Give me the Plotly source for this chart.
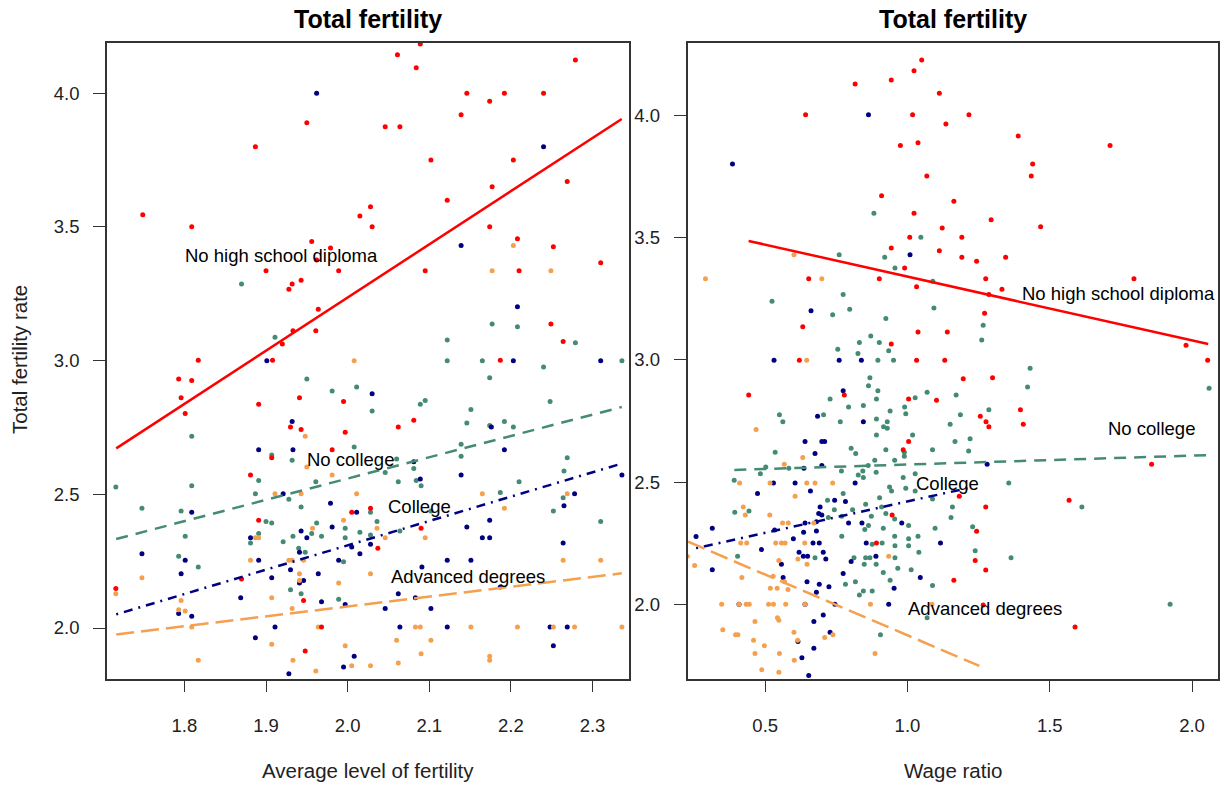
import plotly.graph_objects as go

# ---------------- data (left panel: x = average level of fertility) ----------------
L_RED = [(2.089,4.184),(2.061,4.144),(2.084,4.095),(2.279,4.124),(2.146,4.000),(2.174,3.970),
         (2.192,4.000),(2.240,4.000),(2.139,3.920),(1.950,3.890),(2.046,3.875),(2.064,3.875),
         (1.887,3.800),(2.102,3.750),(2.203,3.750),(2.177,3.650),(2.269,3.670),(2.122,3.600),
         (1.749,3.546),(1.809,3.501),(2.015,3.541),(2.028,3.576),(2.030,3.501),(2.174,3.501),
         (1.956,3.446),(2.208,3.456),(1.979,3.421),(2.252,3.426),(2.310,3.366),(1.962,3.376),
         (1.900,3.336),(1.989,3.336),(2.095,3.336),(2.210,3.336),(1.943,3.301),(1.932,3.287),
         (1.928,3.267),(1.964,3.192),(1.961,3.112),(1.933,3.112),(1.920,3.062),(2.249,3.137),
         (2.264,3.072),(1.817,3.001),(1.908,3.001),(2.187,3.001),(1.793,2.931),(1.809,2.926),
         (1.796,2.861),(1.801,2.802),(1.891,2.837),(1.941,2.861),(1.995,2.847),(1.930,2.752),
         (1.943,2.742),(1.997,2.732),(2.062,2.752),(2.081,2.777),(1.981,2.667),(1.907,2.637),
         (1.881,2.572),(2.028,2.448),(2.005,2.433),(1.891,2.403),(2.090,2.373),(2.037,2.298),
         (1.870,2.183),(1.716,2.148),(1.946,2.103),(1.968,2.004),(1.948,1.914)]
L_GREEN = [(1.870,3.287),(1.911,3.087),(2.177,3.137),(2.208,3.127),(2.279,3.067),(2.122,3.077),
           (2.122,3.000),(2.165,3.000),(2.240,2.976),(2.336,3.000),(1.950,2.931),(1.981,2.886),
           (2.011,2.901),(2.174,2.936),(2.248,2.847),(2.089,2.837),(2.095,2.851),(2.030,2.812),
           (2.151,2.817),(2.146,2.767),(2.174,2.757),(2.192,2.772),(2.203,2.752),(1.809,2.717),
           (2.008,2.677),(2.139,2.687),(1.907,2.647),(1.932,2.627),(2.060,2.632),(2.139,2.642),
           (2.269,2.637),(2.081,2.597),(2.046,2.582),(2.265,2.587),(1.716,2.527),(1.809,2.532),
           (1.891,2.552),(1.961,2.547),(2.062,2.547),(2.084,2.552),(2.090,2.532),(2.210,2.547),
           (1.887,2.502),(1.928,2.482),(1.943,2.453),(2.187,2.507),(2.264,2.487),(1.748,2.448),
           (1.796,2.438),(2.102,2.438),(2.028,2.433),(2.252,2.438),(2.310,2.398),(1.900,2.398),
           (1.907,2.393),(1.962,2.393),(2.036,2.398),(1.997,2.373),(1.891,2.353),(1.801,2.343),
           (1.933,2.343),(1.956,2.353),(1.968,2.343),(2.015,2.358),(2.028,2.348),(2.064,2.363),
           (1.881,2.318),(1.921,2.323),(1.997,2.338),(1.940,2.298),(1.948,2.283),(1.793,2.268),
           (1.817,2.228),(1.995,2.248),(1.930,2.143),(1.943,2.128),(1.989,2.108)]
L_NAVY = [(1.962,4.000),(2.240,3.800),(2.139,3.431),(2.208,3.202),(1.901,3.000),(2.203,3.000),
          (2.310,3.000),(2.030,2.876),(1.932,2.772),(1.891,2.667),(1.933,2.667),(2.192,2.667),
          (2.176,2.752),(2.081,2.622),(2.139,2.572),(2.089,2.557),(2.336,2.572),(2.278,2.502),
          (2.265,2.457),(1.921,2.502),(1.979,2.467),(1.809,2.433),(2.011,2.433),(2.174,2.403),
          (2.146,2.378),(1.981,2.378),(1.881,2.338),(1.943,2.363),(1.950,2.338),(2.165,2.338),
          (2.174,2.338),(2.005,2.303),(2.028,2.313),(2.264,2.318),(1.748,2.278),(1.941,2.283),
          (2.015,2.278),(1.801,2.253),(1.891,2.253),(1.989,2.253),(2.122,2.253),(2.151,2.253),
          (2.091,2.228),(1.796,2.203),(1.930,2.218),(1.964,2.203),(1.907,2.188),(1.946,2.178),
          (1.941,2.168),(2.062,2.128),(2.083,2.113),(1.869,2.113),(1.968,2.098),(1.997,2.088),
          (2.046,2.073),(2.102,2.073),(1.793,2.054),(1.809,2.044),(2.187,2.153),(1.911,2.004),
          (2.064,2.004),(2.122,2.004),(2.248,2.004),(2.269,2.004),(1.887,1.964),(2.252,1.934),
          (2.008,1.894),(1.995,1.854),(1.928,1.829)]
L_ORANGE = [(2.203,3.431),(2.177,3.336),(2.249,3.336),(2.008,3.000),(1.948,2.717),(1.950,2.602),
            (1.981,2.572),(1.911,2.502),(1.943,2.502),(2.011,2.502),(2.165,2.502),(2.269,2.502),
            (2.192,2.448),(1.995,2.403),(1.957,2.373),(2.036,2.373),(1.887,2.338),(1.891,2.338),
            (2.046,2.338),(2.095,2.338),(1.881,2.253),(1.928,2.253),(1.932,2.253),(1.946,2.253),
            (2.264,2.253),(2.310,2.253),(1.748,2.188),(1.941,2.203),(2.028,2.203),(1.941,2.178),
            (1.989,2.168),(1.716,2.128),(1.796,2.103),(1.907,2.113),(1.793,2.068),(1.801,2.064),
            (1.932,2.073),(1.809,2.004),(1.964,2.004),(2.083,2.004),(2.089,2.004),(2.151,2.004),
            (2.208,2.004),(2.252,2.004),(2.278,2.004),(2.336,2.004),(1.907,1.939),(1.997,1.934),
            (2.060,1.954),(2.102,1.954),(2.090,1.904),(2.174,1.894),(2.174,1.879),(1.817,1.879),
            (1.933,1.879),(2.005,1.859),(2.028,1.859),(2.062,1.869),(1.961,1.839)]

# ---------------- data (right panel: x = wage ratio) ----------------
R_RED = [(1.050,4.225),(1.023,4.181),(0.816,4.127),(0.943,4.143),(1.112,4.089),(0.642,4.001),
         (1.018,4.001),(1.216,4.001),(1.135,3.963),(1.389,3.914),(0.975,3.876),(1.037,3.887),
         (1.712,3.876),(1.440,3.800),(1.435,3.751),(1.068,3.751),(0.909,3.670),(1.163,3.648),
         (1.023,3.599),(1.294,3.572),(1.468,3.544),(1.122,3.539),(1.008,3.501),(1.191,3.501),
         (0.943,3.457),(1.112,3.446),(1.191,3.419),(1.345,3.419),(1.243,3.403),(0.990,3.376),
         (0.653,3.332),(0.901,3.332),(1.275,3.332),(1.796,3.332),(1.032,3.299),(1.332,3.289),
         (1.286,3.267),(1.271,3.191),(0.632,3.136),(1.037,3.114),(1.140,3.114),(0.943,3.065),
         (1.979,3.060),(2.055,2.999),(0.620,2.999),(1.032,2.999),(1.131,2.999),(0.442,2.857),
         (0.778,2.857),(1.004,2.841),(1.102,2.836),(1.196,2.923),(1.299,2.928),(1.397,2.797),
         (1.407,2.738),(1.256,2.770),(1.276,2.748),(1.286,2.727),(1.004,2.667),(0.985,2.634),
         (1.858,2.574),(1.182,2.444),(1.275,2.400),(1.568,2.427),(0.946,2.367),(1.243,2.301),
         (0.891,2.253),(1.238,2.182),(1.275,2.143),(1.163,2.101),(1.266,2.000),(1.589,1.910)]
R_GREEN = [(0.882,3.599),(1.047,3.501),(0.760,3.430),(0.920,3.419),(0.956,3.376),(1.089,3.321),
           (0.524,3.240),(0.774,3.267),(0.797,3.207),(0.737,3.185),(0.924,3.169),(1.093,3.212),
           (1.266,3.142),(1.261,3.082),(0.871,3.098),(0.831,3.071),(0.901,3.071),(0.755,3.044),
           (0.826,3.027),(0.934,3.038),(0.896,2.999),(0.951,2.999),(1.431,2.966),(2.060,2.885),
           (0.868,2.928),(0.863,2.895),(0.896,2.874),(1.069,2.868),(1.171,2.857),(1.027,2.846),
           (0.728,2.841),(0.891,2.841),(0.845,2.814),(0.793,2.808),(0.990,2.808),(1.286,2.797),
           (0.939,2.792),(0.994,2.781),(0.550,2.776),(0.705,2.776),(0.562,2.748),(0.764,2.748),
           (0.891,2.759),(0.929,2.748),(0.916,2.727),(0.929,2.721),(1.150,2.738),(1.186,2.776),
           (1.422,2.890),(0.891,2.694),(1.018,2.694),(1.167,2.667),(1.220,2.678),(1.215,2.629),
           (1.088,2.634),(0.924,2.634),(0.802,2.640),(0.818,2.618),(0.535,2.623),(0.989,2.623),
           (0.989,2.607),(0.955,2.591),(0.885,2.591),(0.862,2.569),(0.502,2.563),(0.583,2.558),
           (0.768,2.547),(0.843,2.547),(0.890,2.542),(0.827,2.531),(0.483,2.536),(0.391,2.509),
           (0.845,2.520),(1.027,2.536),(0.985,2.520),(0.994,2.476),(0.937,2.482),(0.944,2.465),
           (1.356,2.498),(1.027,2.465),(0.774,2.455),(0.902,2.438),(0.719,2.427),(1.088,2.433),
           (0.853,2.411),(0.743,2.389),(0.909,2.400),(1.158,2.400),(1.613,2.400),(0.393,2.378),
           (0.443,2.384),(0.807,2.389),(0.924,2.373),(1.153,2.357),(0.769,2.362),(0.873,2.362),
           (0.722,2.357),(0.955,2.351),(1.004,2.324),(0.863,2.324),(0.850,2.308),(0.915,2.313),
           (1.097,2.313),(1.229,2.319),(0.769,2.280),(0.955,2.280),(1.037,2.280),(1.004,2.270),
           (0.911,2.253),(0.956,2.242),(1.004,2.242),(0.876,2.248),(1.238,2.221),(1.040,2.215),
           (0.403,2.199),(0.675,2.193),(0.853,2.193),(0.868,2.193),(0.956,2.193),(1.364,2.193),
           (0.812,2.193),(0.848,2.166),(0.890,2.166),(0.915,2.133),(0.966,2.150),(1.013,2.144),
           (0.817,2.095),(0.782,2.085),(0.939,2.101),(1.088,2.079),(0.845,2.057),(0.876,2.057),
           (0.831,2.041),(1.069,1.948),(0.905,1.878),(1.923,2.003)]
R_NAVY = [(0.863,4.001),(0.385,3.800),(1.009,3.430),(0.661,3.201),(0.531,2.999),(0.760,2.999),
          (0.838,2.999),(0.774,2.874),(0.684,2.770),(0.845,2.748),(0.640,2.667),(0.699,2.667),
          (0.709,2.667),(0.675,2.618),(1.280,2.574),(0.699,2.569),(0.636,2.558),(0.529,2.498),
          (0.605,2.498),(0.816,2.498),(0.473,2.455),(0.659,2.465),(0.744,2.427),(0.782,2.422),
          (0.693,2.400),(0.688,2.373),(0.699,2.367),(0.680,2.340),(0.793,2.335),(0.640,2.335),
          (0.840,2.335),(0.980,2.335),(0.314,2.313),(0.533,2.306),(0.635,2.297),(0.680,2.302),
          (0.257,2.279),(0.599,2.270),(0.668,2.253),(0.690,2.253),(0.855,2.253),(1.116,2.253),
          (0.487,2.226),(0.619,2.215),(0.634,2.199),(0.649,2.199),(0.704,2.215),(0.713,2.188),
          (0.802,2.177),(0.889,2.199),(0.314,2.144),(0.557,2.166),(0.563,2.112),(0.774,2.128),
          (1.045,2.112),(0.647,2.095),(0.690,2.085),(0.724,2.074),(0.953,2.068),(0.680,2.052),
          (0.408,2.003),(0.640,2.003),(0.745,2.003),(0.934,2.003),(0.704,1.959),(0.671,1.932),
          (0.728,1.889),(0.615,1.851),(0.671,1.823),(0.629,1.785),(0.653,1.712)]
R_ORANGE = [(0.290,3.332),(0.601,3.430),(0.699,3.332),(0.646,2.999),(0.468,2.716),(0.632,2.602),
            (0.567,2.574),(0.410,2.498),(0.517,2.498),(0.646,2.498),(0.675,2.498),(0.737,2.498),
            (0.605,2.444),(0.423,2.400),(0.430,2.367),(0.516,2.367),(0.561,2.335),(0.581,2.335),
            (0.671,2.335),(0.414,2.253),(0.435,2.253),(0.537,2.253),(0.557,2.253),(0.570,2.253),
            (0.639,2.253),(0.226,2.199),(0.615,2.188),(0.647,2.166),(0.934,2.199),(0.548,2.182),
            (0.252,2.161),(0.418,2.112),(0.528,2.117),(0.568,2.095),(0.518,2.068),(0.542,2.068),
            (0.580,2.063),(0.347,2.003),(0.408,2.003),(0.433,2.003),(0.444,2.003),(0.512,2.003),
            (0.529,2.003),(0.572,2.003),(0.640,2.003),(0.870,2.003),(1.086,2.003),(0.543,1.948),
            (0.548,1.938),(0.464,1.932),(0.351,1.899),(0.396,1.878),(0.404,1.878),(0.601,1.889),
            (0.709,1.867),(0.738,1.878),(0.459,1.856),(0.614,1.856),(0.497,1.834),(0.464,1.802),
            (0.550,1.802),(0.886,1.802),(0.602,1.774),(0.488,1.736),(0.548,1.725)]

# fitted lines (endpoints of each group's regression line)
L_FIT_X = [1.7165, 2.3358]
L_FIT = {"red": [2.672, 3.904], "green": [2.333, 2.8265],
         "navy": [2.051, 2.615], "orange": [1.976, 2.2045]}
R_FIT = {"red": ([0.4417, 2.057], [3.486, 3.065]),
         "green": ([0.3914, 2.067], [2.551, 2.612]),
         "navy": ([0.257, 1.22], [2.232, 2.479]),
         "orange": ([0.2285, 1.2526], [2.2585, 1.751])}

GROUP_LABELS = ["No high school diploma", "No college", "College", "Advanced degrees"]
L_LABEL_POS = [(1.919, 3.395), (2.003, 2.631), (2.088, 2.456), (2.147, 2.192)]
R_LABEL_POS = [(1.741, 3.270), (1.857, 2.719), (1.139, 2.494), (1.273, 1.985)]

X1_TICKS = [1.8, 1.9, 2.0, 2.1, 2.2, 2.3]
Y1_TICKS = [2.0, 2.5, 3.0, 3.5, 4.0]
X2_TICKS = [0.5, 1.0, 1.5, 2.0]
Y2_TICKS = [2.0, 2.5, 3.0, 3.5, 4.0]

# ---------------- styling ----------------
COLORS = {"red": "#FF0000", "green": "#458B74", "navy": "#000080", "orange": "#F4A04F"}
DASH = {"red": "solid", "green": "12px,8px", "navy": "2px,6px,9px,6px", "orange": "18px,7px"}
FONT = "Liberation Sans, Arial, sans-serif"
AX = "#333333"

fig = go.Figure()

def add_points(pts, color, xa, ya):
    fig.add_trace(go.Scatter(x=[p[0] for p in pts], y=[p[1] for p in pts], mode="markers",
                             marker=dict(size=5, color=color, line=dict(width=0)),
                             xaxis=xa, yaxis=ya, showlegend=False, hoverinfo="skip"))

for pts, c in [(L_GREEN, "green"), (L_NAVY, "navy"), (L_ORANGE, "orange"), (L_RED, "red")]:
    add_points(pts, COLORS[c], "x", "y")
for pts, c in [(R_GREEN, "green"), (R_NAVY, "navy"), (R_ORANGE, "orange"), (R_RED, "red")]:
    add_points(pts, COLORS[c], "x2", "y2")

for c in ["red", "green", "navy", "orange"]:
    fig.add_trace(go.Scatter(x=L_FIT_X, y=L_FIT[c], mode="lines",
                             line=dict(color=COLORS[c], width=2.5, dash=DASH[c]),
                             xaxis="x", yaxis="y", showlegend=False, hoverinfo="skip"))
    fig.add_trace(go.Scatter(x=R_FIT[c][0], y=R_FIT[c][1], mode="lines",
                             line=dict(color=COLORS[c], width=2.5, dash=DASH[c]),
                             xaxis="x2", yaxis="y2", showlegend=False, hoverinfo="skip"))

W, H = 1232, 785
def px_x(p): return p / W
def px_y(p): return 1 - p / H

axis_common = dict(showline=True, mirror=True, linecolor=AX, linewidth=1.5, ticks="outside",
                   ticklen=12, tickwidth=1, tickcolor=AX, showgrid=False, zeroline=False,
                   tickfont=dict(family=FONT, size=18.5, color="#222222"), tickformat=".1f")

fig.update_layout(
    width=W, height=H, margin=dict(l=0, r=0, t=0, b=0),
    paper_bgcolor="white", plot_bgcolor="white",
    xaxis=dict(domain=[px_x(107), px_x(628.7)], range=[1.7052, 2.3443], tickvals=X1_TICKS,
               anchor="y", ticklabelstandoff=17, **axis_common),
    yaxis=dict(domain=[px_y(678.7), px_y(43)], range=[1.8104, 4.188], tickvals=Y1_TICKS,
               anchor="x", ticklabelstandoff=10, **axis_common),
    xaxis2=dict(domain=[px_x(687.5), px_x(1217.7)], range=[0.2269, 2.0903], tickvals=X2_TICKS,
                anchor="y2", ticklabelstandoff=17, **axis_common),
    yaxis2=dict(domain=[px_y(678.7), px_y(43)], range=[1.699, 4.294], tickvals=Y2_TICKS,
                anchor="x2", ticklabelstandoff=10, **axis_common),
)

ann = []
for (x, y), t in zip(L_LABEL_POS, GROUP_LABELS):
    ann.append(dict(x=x, y=y, xref="x", yref="y", text=t, showarrow=False,
                    xanchor="center", yanchor="middle",
                    font=dict(family=FONT, size=18.5, color="black")))
for (x, y), t in zip(R_LABEL_POS, GROUP_LABELS):
    ann.append(dict(x=x, y=y, xref="x2", yref="y2", text=t, showarrow=False,
                    xanchor="center", yanchor="middle",
                    font=dict(family=FONT, size=18.5, color="black")))
for cx in [367.9, 952.6]:
    ann.append(dict(x=px_x(cx), y=px_y(19), xref="paper", yref="paper", text="<b>Total fertility</b>",
                    showarrow=False, xanchor="center", yanchor="middle",
                    font=dict(family=FONT, size=25, color="black")))
ann.append(dict(x=px_x(367.9), y=px_y(770), xref="paper", yref="paper",
                text="Average level of fertility", showarrow=False, xanchor="center",
                yanchor="middle", font=dict(family=FONT, size=20.5, color="#222222")))
ann.append(dict(x=px_x(952.6), y=px_y(770), xref="paper", yref="paper",
                text="Wage ratio", showarrow=False, xanchor="center",
                yanchor="middle", font=dict(family=FONT, size=20.5, color="#222222")))
ann.append(dict(x=px_x(19), y=px_y(360), xref="paper", yref="paper",
                text="Total fertility rate", showarrow=False, textangle=-90, xanchor="center",
                yanchor="middle", font=dict(family=FONT, size=20.5, color="#222222")))
fig.update_layout(annotations=ann)

fig.write_html("out.html", config={"displayModeBar": False},
               post_script="document.body.style.margin='0px';document.body.style.overflow='hidden';")
